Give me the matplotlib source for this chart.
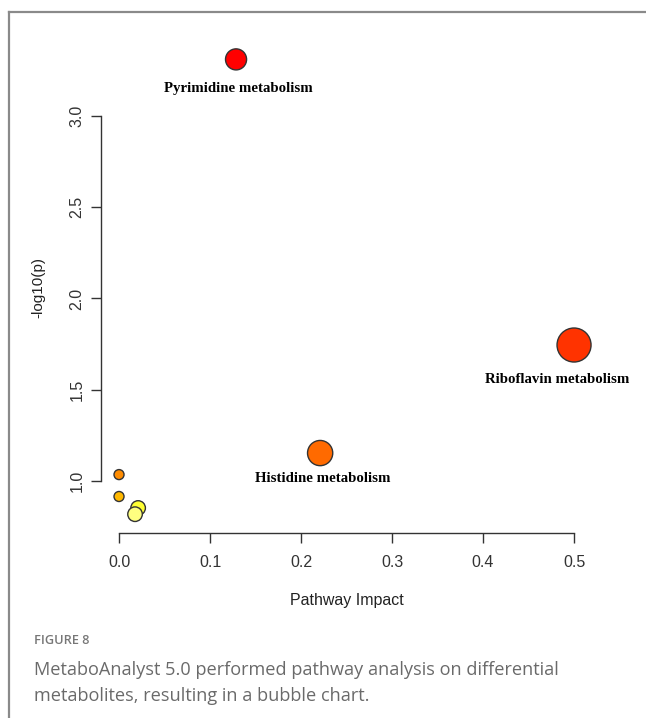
import matplotlib.pyplot as plt
from matplotlib.lines import Line2D

# pathway analysis results
impact = [0.1286, 0.5, 0.221, 0.0, 0.0, 0.021, 0.0176]
logp = [3.31, 1.745, 1.153, 1.035, 0.915, 0.852, 0.818]
sizes = [230, 600, 330, 52, 52, 110, 110]
colors = ['#FF0000', '#FF3300', '#FF6A00', '#FF8C00', '#FFB800', '#FFFF33', '#FFFF80']
names = ['Pyrimidine metabolism', 'Riboflavin metabolism', 'Histidine metabolism']
label_dx = [0.003, -0.018, 0.003]
label_dy = [-0.16, -0.19, -0.14]

xticks = [0.0, 0.1, 0.2, 0.3, 0.4, 0.5]
yticks = [1.0, 1.5, 2.0, 2.5, 3.0]

fig = plt.figure(figsize=(6.46, 7.18), dpi=100)

# panel border (top and left edges only)
fig.add_artist(Line2D([9/646, 1], [1 - 12/718, 1 - 12/718], color='#8a8a8a', lw=1.6))
fig.add_artist(Line2D([9/646, 9/646], [0, 1 - 12/718], color='#8a8a8a', lw=1.6))

ax = fig.add_axes([101/646, 1 - 533/718, 519/646, 503/718])
ax.set_xlim(-0.0198, 0.5505)
ax.set_ylim(0.715, 3.471)

ax.scatter(impact, logp, s=sizes, c=colors, edgecolors='#333333', linewidths=1.0,
           clip_on=False, zorder=3)

for i, name in enumerate(names):
    ax.text(impact[i] + label_dx[i], logp[i] + label_dy[i], name, ha='center', va='center',
            family='Liberation Serif', fontweight='bold', fontsize=10.7, color='black')

for s in ['top', 'right']:
    ax.spines[s].set_visible(False)
ax.spines['left'].set_bounds(1.0, 3.0)
ax.spines['bottom'].set_bounds(0.0, 0.5)
for s in ['left', 'bottom']:
    ax.spines[s].set_color('#333333')
    ax.spines[s].set_linewidth(1.0)

ax.set_xticks(xticks)
ax.set_xticklabels([f'{v:.1f}' for v in xticks], family='Liberation Sans', fontsize=11.5)
ax.set_yticks(yticks)
ax.set_yticklabels([f'{v:.1f}' for v in yticks], family='Liberation Sans', fontsize=11.5,
                   rotation=90, va='center')
ax.tick_params(length=7, width=1.0, color='#333333', labelcolor='#333333', pad=5)
ax.tick_params(axis='x', pad=9)

ax.set_xlabel('Pathway Impact', family='Liberation Sans', fontsize=11.5, color='#222222')
ax.set_ylabel('-log10(p)', family='Liberation Sans', fontsize=11, color='#222222')
ax.xaxis.set_label_coords((347 - 101) / 519, -(600 - 533) / 503)
ax.yaxis.set_label_coords(-(101 - 38) / 519, (533 - 288) / 503)
ax.xaxis.label.set_va('center')
ax.yaxis.label.set_va('center')

# caption
fig.text(34/646, 1 - 641/718, 'FIGURE 8', family='Open Sans', fontsize=9.2,
         fontweight='semibold', color='#777777', va='center')
fig.text(34/646, 1 - 670/718, 'MetaboAnalyst 5.0 performed pathway analysis on differential',
         family='Open Sans', fontsize=13.1, color='#6a6a6a', va='center')
fig.text(34/646, 1 - 696/718, 'metabolites, resulting in a bubble chart.',
         family='Open Sans', fontsize=13.1, color='#6a6a6a', va='center')

fig.savefig('out.png', dpi=100)
